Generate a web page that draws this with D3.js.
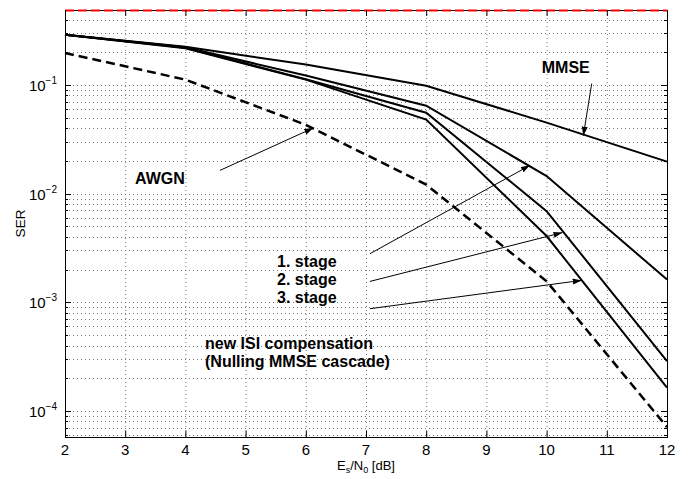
<!DOCTYPE html>
<html>
<head>
<meta charset="utf-8">
<script src="https://cdn.jsdelivr.net/npm/d3@7"></script>
<style>
body { margin: 0; background: #fff; }
text { font-family: "Liberation Sans", Arial, Helvetica, sans-serif; fill: #000; }
</style>
</head>
<body>
<div id="chart"></div>
<script>
// valores (Es/N0 em dB)
var snr = [2, 4, 6, 8, 10, 12];
var serMMSE   = [0.29, 0.225, 0.154, 0.0985, 0.045, 0.0197];
var serStage1 = [0.29, 0.222, 0.122, 0.0645, 0.0145, 0.00162];
var serStage2 = [0.29, 0.220, 0.113, 0.0556, 0.0069, 0.000288];
var serStage3 = [0.29, 0.218, 0.112, 0.048, 0.00407, 0.000164];
var serAWGN   = [0.197, 0.112, 0.043, 0.0121, 0.00156, 0.000071];

var xTicks = [2, 3, 4, 5, 6, 7, 8, 9, 10, 11, 12];
var yDecadeExp = [-4, -3, -2, -1];

// textos das anotacoes (coordenadas em dB / SER)
var noteText = ["MMSE", "AWGN", "1. stage", "2. stage", "3. stage", "new ISI compensation", "(Nulling MMSE cascade)"];
var noteX = [9.92, 3.163, 5.522, 5.522, 5.522, 4.326, 4.326];
var noteY = [0.130, 0.01236, 0.00213, 0.00145, 0.000986, 0.000374, 0.000255];

// setas: inicio e ponta
var arrowX0 = [4.575, 10.749, 7.066, 7.066, 7.066];
var arrowY0 = [0.01637, 0.1028, 0.0028, 0.001556, 0.000873];
var arrowX1 = [6.125, 10.610, 9.724, 10.264, 10.583];
var arrowY1 = [0.0402, 0.0341, 0.0182, 0.00438, 0.00159];

var width = 693, height = 479;
var margin = {top: 10, right: 26, bottom: 42, left: 65};
var yTop = Math.pow(10, -0.31), yBottom = Math.pow(10, -4.24);

var x = d3.scaleLinear().domain([2, 12]).range([margin.left, width - margin.right]);
var y = d3.scaleLog().domain([yBottom, yTop]).range([height - margin.bottom, margin.top]);

var svg = d3.select('#chart').append('svg')
    .attr('width', width)
    .attr('height', height);

svg.append('defs').append('marker')
    .attr('id', 'head')
    .attr('markerUnits', 'userSpaceOnUse')
    .attr('markerWidth', 10).attr('markerHeight', 7)
    .attr('refX', 9).attr('refY', 3)
    .attr('orient', 'auto')
    .append('path')
    .attr('d', 'M0,0 L9,3 L0,6 Z')
    .attr('fill', '#000');

// valores minor do eixo log
var yMinor = [];
for (var k = -5; k <= 0; k++) {
    for (var m = 1; m <= 9; m++) {
        var v = m * Math.pow(10, k);
        if (v >= yBottom && v <= yTop) yMinor.push(v);
    }
}

var x0 = x.range()[0], x1 = x.range()[1];
var yb = y.range()[0], yt = y.range()[1];

// grelha pontilhada
var grid = svg.append('g')
    .attr('stroke', '#777')
    .attr('stroke-width', 1)
    .attr('stroke-dasharray', '1,3');

grid.selectAll('line.gx').data(xTicks.slice(1, -1)).enter().append('line')
    .attr('x1', d => x(d) + 0.5).attr('x2', d => x(d) + 0.5)
    .attr('y1', yt).attr('y2', yb);

grid.selectAll('line.gy').data(yMinor).enter().append('line')
    .attr('x1', x0).attr('x2', x1)
    .attr('y1', d => Math.round(y(d)) + 0.5).attr('y2', d => Math.round(y(d)) + 0.5);

// curvas
var line = d3.line()
    .x((d, i) => x(snr[i]))
    .y(d => y(d));

[serMMSE, serStage1, serStage2, serStage3].forEach(function (s) {
    svg.append('path')
        .attr('d', line(s))
        .attr('fill', 'none')
        .attr('stroke', '#000')
        .attr('stroke-width', 2);
});

svg.append('path')
    .attr('d', line(serAWGN))
    .attr('fill', 'none')
    .attr('stroke', '#000')
    .attr('stroke-width', 2.5)
    .attr('stroke-dasharray', '9,5');

// moldura
svg.append('rect')
    .attr('x', x0 + 0.5).attr('y', yt + 0.5)
    .attr('width', x1 - x0).attr('height', yb - yt)
    .attr('fill', 'none')
    .attr('stroke', '#000')
    .attr('stroke-width', 1);

// linha vermelha tracejada no topo
svg.append('line')
    .attr('x1', x0).attr('x2', x1)
    .attr('y1', y(yTop) + 0.5).attr('y2', y(yTop) + 0.5)
    .attr('stroke', '#ff0000')
    .attr('stroke-width', 2)
    .attr('stroke-dasharray', '9,4');

// ticks para dentro
var ticks = svg.append('g').attr('stroke', '#000').attr('stroke-width', 1);

xTicks.forEach(function (t) {
    ticks.append('line').attr('x1', x(t) + 0.5).attr('x2', x(t) + 0.5).attr('y1', yb).attr('y2', yb - 6);
    ticks.append('line').attr('x1', x(t) + 0.5).attr('x2', x(t) + 0.5).attr('y1', yt).attr('y2', yt + 6);
});

yMinor.forEach(function (v) {
    var major = Math.abs(Math.log10(v) - Math.round(Math.log10(v))) < 1e-9;
    var len = major ? 6 : 3;
    var yy = Math.round(y(v)) + 0.5;
    ticks.append('line').attr('x1', x0).attr('x2', x0 + len).attr('y1', yy).attr('y2', yy);
    ticks.append('line').attr('x1', x1).attr('x2', x1 - len).attr('y1', yy).attr('y2', yy);
});

// labels eixo x
svg.selectAll('text.xt').data(xTicks).enter().append('text')
    .attr('x', d => x(d))
    .attr('y', yb + 18)
    .attr('text-anchor', 'middle')
    .attr('font-size', 15)
    .text(d => d);

// labels eixo y (10^k)
yDecadeExp.forEach(function (e) {
    var t = svg.append('text')
        .attr('x', x0 - 8)
        .attr('y', y(Math.pow(10, e)) + 6)
        .attr('text-anchor', 'end')
        .attr('font-size', 15);
    t.append('tspan').text('10');
    t.append('tspan').attr('dy', -7).attr('font-size', 10).text('\u2212' + Math.abs(e));
});

// titulos dos eixos
var xl = svg.append('text')
    .attr('x', (x0 + x1) / 2)
    .attr('y', 470)
    .attr('text-anchor', 'middle')
    .attr('font-size', 13);
xl.append('tspan').text('E');
xl.append('tspan').attr('dy', 3).attr('font-size', 9).text('s');
xl.append('tspan').attr('dy', -3).text('/N');
xl.append('tspan').attr('dy', 3).attr('font-size', 9).text('0');
xl.append('tspan').attr('dy', -3).text(' [dB]');

svg.append('text')
    .attr('transform', 'translate(25,' + ((yt + yb) / 2) + ') rotate(-90)')
    .attr('text-anchor', 'middle')
    .attr('font-size', 13.5)
    .text('SER');

// setas
arrowX0.forEach(function (d, i) {
    svg.append('line')
        .attr('x1', x(arrowX0[i])).attr('y1', y(arrowY0[i]))
        .attr('x2', x(arrowX1[i])).attr('y2', y(arrowY1[i]))
        .attr('stroke', '#000')
        .attr('stroke-width', 1)
        .attr('marker-end', 'url(#head)');
});

// anotacoes
noteText.forEach(function (d, i) {
    svg.append('text')
        .attr('x', x(noteX[i]))
        .attr('y', y(noteY[i]))
        .attr('font-size', 16)
        .attr('font-weight', 'bold')
        .text(d);
});
</script>
</body>
</html>
